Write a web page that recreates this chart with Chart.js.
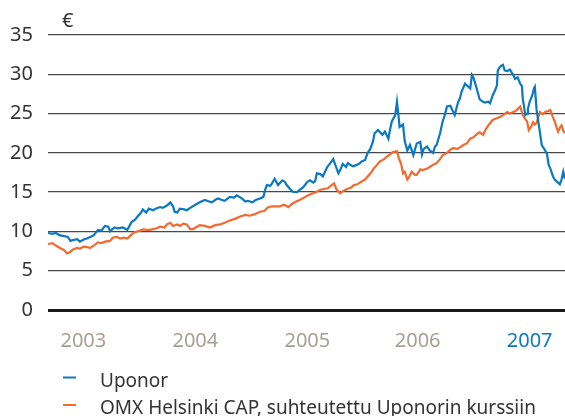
<!DOCTYPE html>
<html><head><meta charset="utf-8">
<script src="https://cdn.jsdelivr.net/npm/chart.js@4"></script>
<style>html,body{margin:0;padding:0;background:#fff;}#wrap{width:565px;height:416px;position:relative}</style>
</head><body><div id="wrap"><canvas id="c" width="565" height="416"></canvas></div>
<script>
// ---- data (months since Jan 2003, share price €) ----
const yearLabels = ['2003','2004','2005','2006','2007'];
const yearTickMonths = [4.1, 17.1, 30.1, 42.9, 55.9];
const seriesNames = ['Uponor', 'OMX Helsinki CAP, suhteutettu Uponorin kurssiin'];
const unitLabel = '€';

const uponorMonths = [0,0.5,0.9,1.4,1.9,2.3,2.6,2.9,3.4,3.7,4.2,4.5,4.9,5.3,5.8,6.2,6.6,7.0,7.2,7.7,8.1,8.7,9.2,9.5,9.7,10.1,10.4,10.8,11.0,11.4,11.7,12.2,12.5,13.0,13.3,13.8,14.2,14.5,14.7,15.0,15.3,15.8,16.1,16.5,17.1,17.6,18.2,18.7,19.0,19.4,19.7,20.2,20.5,21.1,21.6,21.9,22.5,22.9,23.2,23.7,24.1,24.6,25.0,25.2,25.4,25.8,26.0,26.3,26.7,27.2,27.5,27.7,28.1,28.4,28.9,29.2,29.6,30.1,30.4,30.8,31.0,31.2,31.6,31.9,32.4,32.7,33.1,33.4,33.7,34.0,34.2,34.6,34.8,35.2,35.4,35.9,36.2,36.4,36.8,37.1,37.4,37.7,37.9,38.3,38.8,39.1,39.5,39.7,39.9,40.3,40.5,40.7,40.8,41.2,41.4,41.7,42.0,42.4,42.6,42.8,43.2,43.4,43.6,44.0,44.3,44.7,44.9,45.1,45.5,45.8,46.1,46.3,46.7,46.9,47.2,47.6,47.8,48.0,48.4,48.6,49.0,49.2,49.4,49.8,50.1,50.5,50.7,51.1,51.3,51.6,51.9,52.1,52.2,52.5,52.8,53.0,53.3,53.6,54.0,54.2,54.5,54.8,55.0,55.1,55.4,55.6,55.7,55.9,56.2,56.4,56.5,56.7,56.9,57.1,57.3,57.7,57.9,58.1,58.3,58.6,58.8,59.1,59.4,59.6,59.8,60.0];
const uponorValues = [9.8,9.7,9.8,9.5,9.4,9.3,8.8,8.9,9.0,8.7,9.0,9.1,9.3,9.5,10.2,10.1,10.7,10.6,10.0,10.5,10.4,10.5,10.2,10.8,11.2,11.5,11.9,12.4,12.8,12.4,12.9,12.7,12.9,13.1,13.0,13.3,13.7,13.2,12.5,12.4,12.9,12.8,12.7,13.0,13.4,13.7,14.0,13.8,13.7,14.0,14.2,14.0,13.9,14.4,14.3,14.6,14.2,13.8,13.9,13.7,14.0,14.2,14.4,15.3,15.9,15.8,16.1,16.7,15.9,16.5,16.3,15.9,15.4,15.05,15.0,15.3,15.6,16.3,16.5,16.2,16.4,17.4,17.3,17.0,18.2,18.6,19.2,18.3,17.4,18.0,18.6,18.2,18.7,18.4,18.3,18.5,18.7,18.9,19.1,20.0,20.5,21.4,22.5,22.9,22.3,22.7,21.8,23.0,24.0,24.8,26.5,24.5,23.3,23.6,21.5,20.3,21.0,19.7,20.5,21.2,21.4,19.8,20.5,20.8,20.3,20.0,20.8,21.0,22.5,24.0,25.0,25.9,26.0,25.5,24.8,26.5,26.9,27.8,28.8,28.6,28.2,29.9,29.5,28.0,26.8,26.5,26.4,26.5,26.3,27.3,28.0,28.6,30.5,31.0,31.2,30.5,30.4,30.6,29.9,29.4,29.6,28.8,28.5,26.9,24.8,25.0,25.6,26.5,27.3,28.2,28.4,25.5,24.0,22.5,21.0,20.3,19.9,18.5,18.0,17.0,16.6,16.3,16.0,16.6,17.6,16.7];

const omxMonths = [0,0.5,0.9,1.4,1.9,2.2,2.6,2.9,3.4,3.7,4.1,4.5,4.9,5.3,5.8,6.2,6.6,7.2,7.5,8.0,8.4,8.8,9.2,9.5,9.9,10.3,10.7,11.0,11.5,11.8,12.2,12.6,13.0,13.5,13.8,14.2,14.5,15.0,15.3,15.7,16.1,16.5,16.8,17.3,17.6,18.2,18.8,19.4,20.0,20.5,21.1,21.7,22.3,22.9,23.4,24.0,24.6,25.1,25.5,26.0,26.3,26.9,27.4,27.9,28.3,28.8,29.2,29.7,30.2,30.6,31.1,31.6,32.0,32.5,32.8,33.2,33.5,33.9,34.2,34.7,35.2,35.5,35.9,36.3,36.8,37.1,37.5,37.8,38.2,38.5,39.0,39.3,39.7,40.0,40.5,40.7,41.0,41.2,41.4,41.7,41.9,42.2,42.6,42.8,43.2,43.5,44.0,44.3,44.7,45.1,45.5,45.8,46.3,46.7,47.0,47.5,47.8,48.2,48.6,49.0,49.4,49.8,50.1,50.5,50.8,51.1,51.4,51.6,52.1,52.5,52.8,53.3,53.6,53.8,54.2,54.4,54.8,55.1,55.4,55.6,55.8,56.1,56.3,56.5,56.7,57.1,57.4,57.7,58.0,58.3,58.5,58.8,59.1,59.2,59.4,59.6,59.8,60.0];
const omxValues = [8.4,8.5,8.2,7.9,7.6,7.2,7.4,7.7,7.9,7.8,8.05,8.0,7.9,8.2,8.6,8.5,8.7,8.8,9.2,9.3,9.1,9.2,9.1,9.4,9.8,10.0,10.1,10.25,10.2,10.2,10.3,10.4,10.6,10.5,10.9,11.1,10.7,10.9,10.7,11.0,10.9,10.3,10.3,10.6,10.8,10.7,10.5,10.8,10.9,11.1,11.4,11.6,11.9,12.1,12.0,12.2,12.5,12.6,13.05,13.2,13.2,13.2,13.4,13.1,13.5,13.8,14.0,14.3,14.6,14.8,15.0,15.3,15.4,15.5,15.8,16.1,15.3,14.85,15.1,15.4,15.6,15.9,16.0,16.3,16.6,17.0,17.5,18.0,18.5,18.9,19.2,19.5,19.8,20.1,20.2,19.4,18.5,17.4,17.6,16.6,16.9,17.6,17.2,17.2,17.9,17.8,18.0,18.2,18.5,18.7,19.2,19.7,20.0,20.4,20.6,20.5,20.7,21.0,21.2,21.8,22.0,22.4,22.6,22.3,23.0,23.5,23.9,24.2,24.4,24.6,24.8,25.2,25.0,25.1,25.3,25.45,25.9,24.8,24.3,24.0,22.9,23.4,23.9,23.6,23.8,25.2,24.9,25.2,25.3,25.45,24.8,24.0,23.0,22.7,23.2,23.5,22.8,22.5];

const toPoints = (xs, ys) => xs.map((x, i) => ({x: x, y: ys[i]}));

const FONT = 'Noto Sans';
const extras = {
  id: 'extras',
  afterDraw(chart) {
    const ctx = chart.ctx;
    ctx.save();
    ctx.fillStyle = '#333';
    ctx.textAlign = 'left';
    ctx.textBaseline = 'alphabetic';
    ctx.font = '20px "' + FONT + '"';
    ctx.fillText(unitLabel, 62, 27);
    ctx.font = '19px "' + FONT + '"';
    chart.data.datasets.forEach((ds, i) => {
      const y = 377.5 + i * 27.5;
      ctx.strokeStyle = ds.borderColor;
      ctx.lineWidth = 2;
      ctx.beginPath(); ctx.moveTo(63, y); ctx.lineTo(76, y); ctx.stroke();
      ctx.fillText(ds.label, 100, y + 9);
    });
    ctx.restore();
  }
};

new Chart(document.getElementById('c'), {
  type: 'line',
  data: {
    datasets: [
      {label: seriesNames[0], data: toPoints(uponorMonths, uponorValues), borderColor: '#0a78c2', borderWidth: 2.2, pointRadius: 0, tension: 0, fill: false},
      {label: seriesNames[1], data: toPoints(omxMonths, omxValues), borderColor: '#f26a2e', borderWidth: 2.2, pointRadius: 0, tension: 0, fill: false}
    ]
  },
  options: {
    responsive: false, animation: false, devicePixelRatio: 1,
    layout: {padding: {top: 35, right: 0, left: 0, bottom: 0}},
    plugins: {legend: {display: false}, tooltip: {enabled: false}},
    scales: {
      x: {
        type: 'linear', min: 0, max: 60,
        grid: {display: false, drawTicks: false}, border: {display: false},
        afterBuildTicks: s => { s.ticks = yearTickMonths.map(v => ({value: v})); },
        afterFit: s => { s.height = 106; s.paddingLeft = 0; s.paddingRight = 0; },
        ticks: {autoSkip: false, maxRotation: 0, padding: 19, font: {family: FONT, size: 20},
          color: c => c.index === 4 ? '#0a78c2' : '#a99f96',
          callback: (v, i) => yearLabels[i]}
      },
      y: {
        min: 0, max: 35,
        afterFit: s => { s.width = 48; s.paddingTop = 0; s.paddingBottom = 0; },
        border: {display: false},
        grid: {drawTicks: false, color: c => c.tick.value === 0 ? '#1a1a1a' : '#4a4a4a', lineWidth: c => c.tick.value === 0 ? 3 : 1.3},
        ticks: {stepSize: 5, padding: 15, font: {family: FONT, size: 20}, color: '#333'}
      }
    }
  },
  plugins: [extras]
});
</script></body></html>
